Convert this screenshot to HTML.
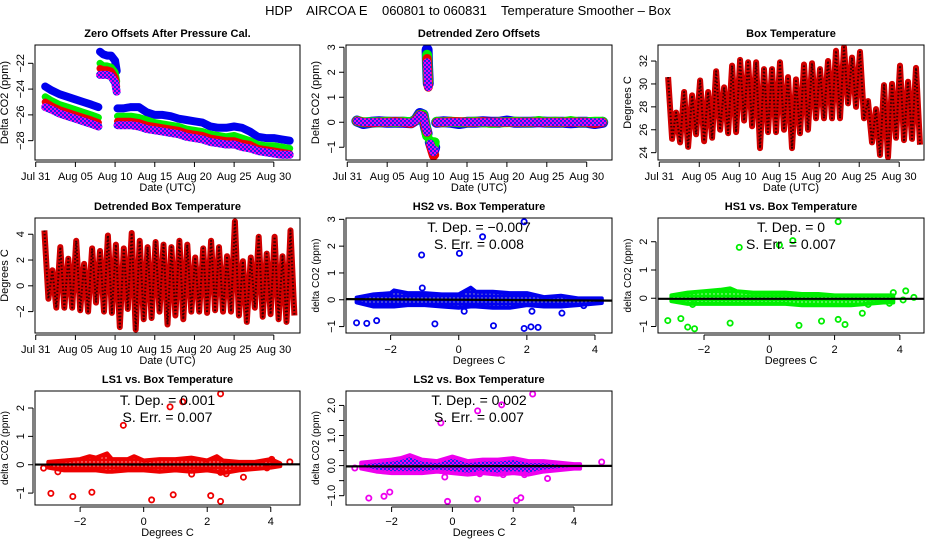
<!DOCTYPE html>
<html><head><meta charset="utf-8">
<style>
html,body{margin:0;padding:0;background:#fff;}
svg{display:block;font-family:"Liberation Sans",Arial,sans-serif;}
</style></head>
<body>
<svg id="chart" width="936" height="540" viewBox="0 0 936 540" xmlns="http://www.w3.org/2000/svg">
<defs>
<pattern id="pat-blue" width="4" height="4" patternUnits="userSpaceOnUse"><rect width="4" height="4" fill="#0000ee"/><circle cx="2" cy="2" r="0.7" fill="#aab"/></pattern>
<pattern id="pat-green" width="4" height="4" patternUnits="userSpaceOnUse"><rect width="4" height="4" fill="#00ee00"/><circle cx="2" cy="2" r="0.7" fill="#cfc"/></pattern>
<pattern id="pat-red" width="4" height="4" patternUnits="userSpaceOnUse"><rect width="4" height="4" fill="#ee0000"/><circle cx="2" cy="2" r="0.7" fill="#fbb"/></pattern>
<pattern id="pat-purple" width="4" height="4" patternUnits="userSpaceOnUse"><rect width="4" height="4" fill="#ee00ee"/><rect x="0" y="0" width="2" height="2" fill="#2020ee"/><rect x="2" y="2" width="2" height="2" fill="#2020ee"/></pattern>
</defs>
<text x="468" y="15" text-anchor="middle" font-size="13" style="white-space:pre" xml:space="preserve">HDP    AIRCOA E    060801 to 060831    Temperature Smoother – Box</text>
<g id="plots"></g>
</svg>
<script>
// ---------- DATA ----------
const dateTicks = [0,5,10,15,20,25,30];
const dateTickLabels = ["Jul 31","Aug 05","Aug 10","Aug 15","Aug 20","Aug 25","Aug 30"];

// Panel 1: zero offsets (days since Jul 31)
const p1T = [1.2,2,3,4,5,6,7,7.9, 8.1,8.5,9,9.5,10,10.2, 10.3,11,12,13,14,15,16,17,18,19,20,21,22,23,24,25,26,27,28,29,30,31,32];
const p1Breaks = [8,14];
const p1Blue = [-23.8,-24.1,-24.4,-24.6,-24.8,-25.0,-25.2,-25.4, -21.1,-21.3,-21.4,-21.4,-21.8,-22.6, -25.5,-25.5,-25.4,-25.4,-25.8,-26.0,-26.0,-26.1,-26.3,-26.4,-26.5,-26.6,-26.9,-27.0,-27.0,-26.9,-27.0,-27.3,-27.7,-27.8,-27.8,-27.9,-28.0];
const p1Green = [-24.6,-24.9,-25.2,-25.4,-25.6,-25.8,-26.0,-26.2, -22.0,-22.2,-22.2,-22.3,-22.7,-23.4, -26.1,-26.1,-26.1,-26.2,-26.4,-26.6,-26.7,-26.8,-26.9,-27.1,-27.2,-27.3,-27.5,-27.6,-27.7,-27.6,-27.8,-28.0,-28.3,-28.4,-28.4,-28.5,-28.6];
const p1Red = [-25.0,-25.3,-25.6,-25.8,-26.0,-26.2,-26.4,-26.6, -22.4,-22.5,-22.5,-22.6,-23.1,-23.8, -26.5,-26.5,-26.5,-26.6,-26.8,-26.9,-27.0,-27.1,-27.2,-27.4,-27.5,-27.6,-27.8,-27.9,-28.0,-28.0,-28.2,-28.3,-28.6,-28.7,-28.8,-28.9,-29.0];
const p1Purple = [-25.4,-25.6,-25.9,-26.1,-26.3,-26.5,-26.7,-26.9, -22.9,-22.9,-22.9,-23.0,-23.5,-24.2, -26.8,-26.8,-26.8,-26.9,-27.1,-27.2,-27.3,-27.4,-27.5,-27.7,-27.8,-27.9,-28.1,-28.2,-28.3,-28.3,-28.5,-28.6,-28.8,-28.9,-29.0,-29.1,-29.1];

// Panel 2: detrended zero offsets
const detT = [1.2,2,3,4,5,6,7,8,8.6,9.1,9.5,9.8,10.0, 10.0,10.05,10.1,10.15, 10.4,10.6,10.8,10.95, 11.2,12,13,14,15,16,17,18,19,20,21,22,23,24,25,26,27,28,29,30,31,32];
const detBreaks = [13,17,21];
const detBlue = [0.05,-0.05,0,0.02,0,0,0,-0.02,0.1,0.35,0.3,-0.2,-0.45, 2.9,2.3,1.9,1.55, -0.8,-1.0,-1.15,-1.0, 0,0.02,0,-0.05,0,0,0.02,0,0,0.05,0,0,0,0.02,0,0,0,-0.02,0,0,-0.05,0];
const detGreen = [0.05,0,0,0,0.02,0,0.02,0,0.1,0.3,0.3,-0.15,-0.55, 2.7,2.2,1.8,1.6, -0.75,-0.9,-1.0,-0.8, 0.02,0,0.02,0,0,0.02,0,-0.02,0,0,0.02,0,0,0.05,0,0.02,0,0.05,0,0,0.02,0.02];
const detRed = [0.05,0,-0.02,0,0,0.02,0,-0.05,0.1,0.3,0.25,-0.2,-0.4, 2.55,2.2,1.8,1.4, -0.9,-1.15,-1.35,-1.3, 0,0,0.02,0.02,0,0,0.02,0,0,0,0,0,0,0,0,0,0,0,0,0,-0.05,0];
const detPurple = [0.05,0,0,0,0,0,0,-0.02,0.08,0.3,0.25,-0.15,-0.4, 2.4,2.0,1.7,1.4, -0.85,-1.05,-1.2,-1.1, 0,0,0,0,0,0,0,0,0,0,0,0,0,0,0,0,0,0,0,0,0,0];

// Panel 3: box temperature daily max/min (day index 1..32)
const boxDays = [1,2,3,4,5,6,7,8,9,10,11,12,13,14,15,16,17,18,19,20,21,22,23,24,25,26,27,28,29,30,31,32];
const boxMax = [30.6,27.5,29.3,29.0,30.3,29.3,31.1,29.7,31.6,32.1,31.9,31.9,31.3,31.3,31.9,30.6,30.4,31.7,31.8,31.3,32.0,32.9,33.2,32.3,32.8,28.5,27.8,29.9,30.0,31.6,30.2,31.4];
const boxMin = [25.2,24.9,24.5,25.6,25.0,25.3,26.0,25.7,25.8,26.8,26.3,24.4,25.8,25.8,26.0,24.4,25.7,26.0,27.0,27.0,27.0,27.0,28.3,28.0,27.0,24.9,23.8,23.6,25.3,25.1,25.2,24.7];

// Panel 4: detrended box temperature daily max/min
const dbtMax = [4.3,1.2,3.0,2.1,3.5,1.7,2.9,2.7,3.9,3.2,2.9,4.1,3.5,3.0,3.4,3.2,3.0,3.5,3.2,2.2,2.9,3.5,3.0,2.3,5.0,1.9,2.2,3.8,2.5,3.8,2.3,4.3];
const dbtMin = [-1.0,-1.7,-1.7,-1.7,-1.9,-2.0,-1.3,-2.0,-2.1,-3.2,-1.8,-3.4,-2.6,-2.5,-2.0,-3.0,-2.3,-2.6,-2.0,-2.0,-2.1,-1.9,-2.0,-2.0,-2.3,-2.8,-1.7,-2.4,-2.2,-2.6,-2.8,-2.3];

// Scatter panels: slope (T. Dep.), intercept, S. Err
const slopes = [-0.007, 0, 0.001, 0.002];
const intercepts = [0.0, -0.02, 0.01, -0.02];
const slopeLabels = ["\u22120.007","0","0.001","0.002"];
const serrLabels = ["0.008","0.007","0.007","0.007"];

// HS2
const hs2BandX = [-3,-2.5,-2,-1.9,-1.5,-1,-0.5,0,0.35,0.5,1,1.5,2,2.5,3,3.5,4.2];
const hs2BandHi = [0.08,0.2,0.25,0.35,0.25,0.25,0.2,0.2,0.45,0.3,0.3,0.25,0.25,0.1,0.15,0.05,0.05];
const hs2BandLo = [-0.1,-0.25,-0.25,-0.25,-0.2,-0.2,-0.25,-0.3,-0.25,-0.25,-0.3,-0.3,-0.2,-0.25,-0.25,-0.2,-0.12];
const hs2OutX = [1.92,0.70,-1.09,0.02,-3.0,-2.70,-2.41,-0.70,1.02,1.92,2.12,2.33,-1.07,0.16,2.15,3.03,3.67,4.16];
const hs2OutY = [2.91,2.35,1.67,1.73,-0.86,-0.88,-0.78,-0.90,-0.97,-1.07,-1.01,-1.03,0.44,-0.43,-0.43,-0.5,-0.22,-0.04];
// HS1
const hs1BandX = [-3,-2.5,-2,-1.5,-1.2,-1,-0.5,0,0.5,1,1.5,2,2.5,3,3.5,3.8];
const hs1BandHi = [0.1,0.2,0.25,0.3,0.35,0.25,0.2,0.2,0.2,0.15,0.15,0.1,0.1,0.1,0.1,0.1];
const hs1BandLo = [-0.1,-0.2,-0.2,-0.2,-0.2,-0.2,-0.2,-0.2,-0.2,-0.25,-0.25,-0.25,-0.25,-0.2,-0.15,-0.15];
const hs1OutX = [2.11,0.72,0.31,-0.92,-3.11,-2.71,-2.50,-2.29,-1.20,0.91,1.60,2.11,2.32,2.85,3.80,4.18,4.43,4.10,3.68,3.03,-2.35];
const hs1OutY = [2.71,2.04,1.88,1.80,-0.79,-0.72,-1.02,-1.08,-0.88,-0.96,-0.81,-0.75,-0.93,-0.53,0.2,0.26,0.03,-0.06,-0.18,-0.22,-0.22];
// LS1
const ls1BandX = [-3,-2.5,-2,-1.7,-1.5,-1.15,-1,-0.5,-0.3,0,0.5,1,1.5,2,2.3,2.5,3,3.5,4,4.3];
const ls1BandHi = [0.1,0.15,0.2,0.3,0.25,0.4,0.2,0.2,0.3,0.15,0.2,0.2,0.25,0.15,0.3,0.15,0.1,0.1,0.2,0.05];
const ls1BandLo = [-0.1,-0.2,-0.2,-0.2,-0.2,-0.25,-0.25,-0.2,-0.2,-0.2,-0.25,-0.2,-0.25,-0.2,-0.25,-0.3,-0.2,-0.15,-0.1,-0.05];
const ls1OutX = [2.42,1.23,0.83,-0.64,-3.15,-2.92,-2.23,-1.63,0.25,0.93,2.11,2.42,1.51,3.14,2.6,2.42,-2.7,4.6,4.03,4.19,3.88];
const ls1OutY = [2.50,2.22,2.04,1.39,-0.12,-1.01,-1.12,-0.97,-1.24,-1.06,-1.09,-1.29,-0.33,-0.44,-0.32,-0.27,-0.25,0.1,0.19,0.03,-0.11];
// LS2
const ls2BandX = [-3,-2.5,-2,-1.7,-1.4,-1,-0.5,0,0.5,1,1.5,2,2.5,3,3.5,4,4.2];
const ls2BandHi = [0.1,0.15,0.2,0.25,0.35,0.2,0.15,0.3,0.15,0.2,0.2,0.25,0.15,0.15,0.1,0.05,0.05];
const ls2BandLo = [-0.1,-0.2,-0.25,-0.25,-0.25,-0.25,-0.2,-0.25,-0.3,-0.25,-0.3,-0.25,-0.3,-0.2,-0.15,-0.1,-0.1];
const ls2OutX = [2.64,1.62,0.83,-0.38,-3.21,-2.75,-2.25,-2.06,-0.16,0.83,2.11,2.25,-0.25,3.13,4.91,1.67,0.9,2.37];
const ls2OutY = [2.38,2.02,1.82,1.42,-0.08,-1.08,-1.02,-0.88,-1.19,-1.11,-1.16,-1.07,-0.38,-0.43,0.12,-0.3,-0.27,-0.3];

// ---------- RENDER ----------
const NS = "http://www.w3.org/2000/svg";
const root = document.getElementById("plots");
function mk(tag, attrs, parent, text){
  const e = document.createElementNS(NS, tag);
  for (const k in attrs) e.setAttribute(k, attrs[k]);
  if (text !== undefined) e.textContent = text;
  (parent || root).appendChild(e);
  return e;
}
function lin(d0,d1,r0,r1){ return v => r0 + (v-d0)/(d1-d0)*(r1-r0); }

function panel(o){
  const g = mk("g", {});
  
  
  const sx = lin(o.xd[0], o.xd[1], o.box[0], o.box[2]);
  const sy = lin(o.yd[0], o.yd[1], o.box[3], o.box[1]);
  const cx = (o.box[0]+o.box[2])/2;
  const t = mk("text", {x:cx, y:o.box[1]-8, "text-anchor":"middle", "font-size":"11", "font-weight":"bold"}, g, o.title);
  
  
  const plotG = mk("g", {}, g);
  
  
  const xa = mk("g", {}, g);
  
  
  const xb = o.box[3];
  mk("line", {x1:sx(o.xt[0]), x2:sx(o.xt[o.xt.length-1]), y1:xb+2, y2:xb+2, stroke:"#000", "stroke-width":1}, xa);
  o.xt.forEach((v,i)=>{
    const x = sx(v);
    mk("line", {x1:x, x2:x, y1:xb+2, y2:xb+7, stroke:"#000", "stroke-width":1}, xa);
    const l = mk("text", {x:x, y:xb+20, "text-anchor":"middle", "font-size":"11"}, xa, o.xl[i]);
    
    
  });
  const xtitle = mk("text", {x:cx, y:xb+31, "text-anchor":"middle", "font-size":"11"}, xa, o.xtitle);
  
  
  const ya = mk("g", {}, g);
  
  
  const xl = o.box[0];
  mk("line", {x1:xl-2, x2:xl-2, y1:sy(o.yt[0]), y2:sy(o.yt[o.yt.length-1]), stroke:"#000", "stroke-width":1}, ya);
  o.yt.forEach((v,i)=>{
    const y = sy(v);
    mk("line", {x1:xl-7, x2:xl-2, y1:y, y2:y, stroke:"#000", "stroke-width":1}, ya);
    if (o.yl[i] !== "") {
      const l = mk("text", {x:xl-11, y:y, "text-anchor":"middle", "font-size":"11", transform:`rotate(-90 ${xl-11} ${y})`}, ya, o.yl[i]);
      
      
    }
  });
  const ytx = xl-27, yty = (o.box[1]+o.box[3])/2;
  const ytitle = mk("text", {x:ytx, y:yty, "text-anchor":"middle", "font-size":o.ytsize||"11", transform:`rotate(-90 ${ytx} ${yty})`}, ya, o.ytitle);
  
  
  const clipId = "clip-" + o.name;
  const cp = mk("clipPath", {id:clipId}, g);
  mk("rect", {x:o.box[0], y:o.box[1], width:o.box[2]-o.box[0], height:o.box[3]-o.box[1]}, cp);
  plotG.setAttribute("clip-path", `url(#${clipId})`);
  const frame = mk("rect", {x:o.box[0], y:o.box[1], width:o.box[2]-o.box[0], height:o.box[3]-o.box[1], fill:"none", stroke:"#000", "stroke-width":1}, g);
  
  
  return {sx, sy, g:plotG};
}

function segLine(P, ts, vs, breaks, stroke, width, name){
  const starts = [0].concat(breaks), ends = breaks.concat([ts.length]);
  starts.forEach((s,k)=>{
    const pts = [];
    for (let i=s;i<ends[k];i++) pts.push(P.sx(ts[i]).toFixed(1)+","+P.sy(vs[i]).toFixed(1));
    const pl = mk("polyline", {points:pts.join(" "), fill:"none", stroke:stroke, "stroke-width":width, "stroke-linejoin":"round", "stroke-linecap":"round"}, P.g);
    
    
  });
}

function zigzag(P, days, mx, mn, name){
  const pts = [];
  days.forEach((d,i)=>{
    pts.push(P.sx(d+0.1).toFixed(1)+","+P.sy(mx[i]).toFixed(1));
    pts.push(P.sx(d+0.6).toFixed(1)+","+P.sy(mn[i]).toFixed(1));
  });
  const a = mk("polyline", {points:pts.join(" "), fill:"none", stroke:"#d00000", "stroke-width":6, "stroke-linejoin":"round"}, P.g);
  
  
  const b = mk("polyline", {points:pts.join(" "), fill:"none", stroke:"#300", "stroke-width":2, "stroke-dasharray":"1.5 2", "stroke-linejoin":"round"}, P.g);
  
  
}

function scatter(P, k, bx, bh, bl, ox, oy, color, pat, xd){
  const up = bx.map((x,i)=>P.sx(x).toFixed(1)+","+P.sy(bh[i]).toFixed(1));
  const dn = bx.map((x,i)=>P.sx(x).toFixed(1)+","+P.sy(bl[i]).toFixed(1)).reverse();
  const band = mk("polygon", {points:up.concat(dn).join(" "), fill:`url(#${pat})`, stroke:color, "stroke-width":4, "stroke-linejoin":"round"}, P.g);
  
  
  ox.forEach((x,i)=>{
    const c = mk("circle", {cx:P.sx(x), cy:P.sy(oy[i]), r:2.6, fill:"none", stroke:color, "stroke-width":1.8}, P.g);
    
    
  });
  const fl = mk("line", {x1:P.sx(xd[0]), x2:P.sx(xd[1]), y1:P.sy(intercepts[k]+slopes[k]*xd[0]), y2:P.sy(intercepts[k]+slopes[k]*xd[1]), stroke:"#000", "stroke-width":2.2}, P.g);
  
  
}
function statText(box, k){
  const cx = (box[0]+box[2])/2;
  const a = mk("text", {x:cx, y:box[1]+14, "text-anchor":"middle", "font-size":"14"}, root, "T. Dep. =  " + slopeLabels[k]);
  
  
  const b = mk("text", {x:cx, y:box[1]+31, "text-anchor":"middle", "font-size":"14"}, root, "S. Err. =  " + serrLabels[k]);
  
  
}

const C1=[35,300], C2=[346,612], C3=[658,924];
const R1=[45,160], R2=[218,333], R3=[391,505];
const B = (c,r)=>[c[0],r[0],c[1],r[1]];
const sciTicks = [-2,0,2,4], sciLabels = ["\u22122","0","2","4"];

// Panel 1
let P = panel({name:"zero-offsets-panel", box:B(C1,R1), xd:[-0.09,33.3], yd:[-29.5,-20.58], xt:dateTicks, xl:dateTickLabels,
  yt:[-28,-26,-24,-22], yl:["\u221228","\u221226","\u221224","\u221222"], title:"Zero Offsets After Pressure Cal.", xtitle:"Date (UTC)", ytitle:"Delta CO2 (ppm)"});
segLine(P, p1T, p1Blue, p1Breaks, "#0000ee", 8, "series-hs2");
segLine(P, p1T, p1Green, p1Breaks, "#00ee00", 7, "series-hs1");
segLine(P, p1T, p1Red, p1Breaks, "#ee0000", 7, "series-ls1");
segLine(P, p1T, p1Purple, p1Breaks, "url(#pat-purple)", 8, "series-ls2");

// Panel 2
P = panel({name:"detrended-zero-offsets-panel", box:B(C2,R1), xd:[-0.16,33.17], yd:[-1.51,3.09], xt:dateTicks, xl:dateTickLabels,
  yt:[-1,0,1,2,3], yl:["\u22121","0","1","2","3"], title:"Detrended Zero Offsets", xtitle:"Date (UTC)", ytitle:"Delta CO2 (ppm)"});
segLine(P, detT, detBlue, detBreaks, "#0000ee", 11, "series-hs2");
segLine(P, detT, detGreen, detBreaks, "#00ee00", 10, "series-hs1");
segLine(P, detT, detRed, detBreaks, "#ee0000", 9, "series-ls1");
segLine(P, detT, detPurple, detBreaks, "url(#pat-purple)", 8, "series-ls2");

// Panel 3
P = panel({name:"box-temperature-panel", box:B(C3,R1), xd:[-0.16,33.1], yd:[23.36,33.4], xt:dateTicks, xl:dateTickLabels,
  yt:[24,26,28,30,32], yl:["24","26","28","30","32"], title:"Box Temperature", xtitle:"Date (UTC)", ytitle:"Degrees C"});
zigzag(P, boxDays, boxMax, boxMin, "box-temperature-series");

// Panel 4
P = panel({name:"detrended-box-temperature-panel", box:B(C1,R2), xd:[-0.09,33.3], yd:[-3.66,5.26], xt:dateTicks, xl:dateTickLabels,
  yt:[-2,0,2,4], yl:["\u22122","0","2","4"], title:"Detrended Box Temperature", xtitle:"Date (UTC)", ytitle:"Degrees C"});
zigzag(P, boxDays, dbtMax, dbtMin, "detrended-box-temperature-series");

// Panel 5 HS2
let xd = [-3.31,4.50];
P = panel({name:"hs2-vs-box-temperature-panel", box:B(C2,R2), xd:xd, yd:[-1.24,3.05], xt:sciTicks, xl:sciLabels,
  yt:[-1,0,1,2,3], yl:["\u22121","0","1","2","3"], title:"HS2 vs. Box Temperature", xtitle:"Degrees C", ytitle:"delta CO2 (ppm)", ytsize:"10"});
scatter(P, 0, hs2BandX, hs2BandHi, hs2BandLo, hs2OutX, hs2OutY, "#0000ee", "pat-blue", xd);
statText(B(C2,R2), 0);

// Panel 6 HS1
xd = [-3.41,4.74];
P = panel({name:"hs1-vs-box-temperature-panel", box:B(C3,R2), xd:xd, yd:[-1.23,2.84], xt:sciTicks, xl:sciLabels,
  yt:[-1,0,1,2], yl:["\u22121","0","1","2"], title:"HS1 vs. Box Temperature", xtitle:"Degrees C", ytitle:"delta CO2 (ppm)", ytsize:"10"});
scatter(P, 1, hs1BandX, hs1BandHi, hs1BandLo, hs1OutX, hs1OutY, "#00ee00", "pat-green", xd);
statText(B(C3,R2), 1);

// Panel 7 LS1
xd = [-3.42,4.92];
P = panel({name:"ls1-vs-box-temperature-panel", box:B(C1,R3), xd:xd, yd:[-1.42,2.60], xt:sciTicks, xl:sciLabels,
  yt:[-1,0,1,2], yl:["\u22121","0","1","2"], title:"LS1 vs. Box Temperature", xtitle:"Degrees C", ytitle:"delta CO2 (ppm)", ytsize:"10"});
scatter(P, 2, ls1BandX, ls1BandHi, ls1BandLo, ls1OutX, ls1OutY, "#ee0000", "pat-red", xd);
statText(B(C1,R3), 2);

// Panel 8 LS2
xd = [-3.50,5.25];
P = panel({name:"ls2-vs-box-temperature-panel", box:B(C2,R3), xd:xd, yd:[-1.31,2.48], xt:sciTicks, xl:sciLabels,
  yt:[-1,-0.5,0,0.5,1,1.5,2], yl:["\u22121.0","","0.0","","1.0","","2.0"], title:"LS2 vs. Box Temperature", xtitle:"Degrees C", ytitle:"delta CO2 (ppm)", ytsize:"10"});
scatter(P, 3, ls2BandX, ls2BandHi, ls2BandLo, ls2OutX, ls2OutY, "#ee00ee", "pat-purple", xd);
statText(B(C2,R3), 3);
</script>
</body></html>
